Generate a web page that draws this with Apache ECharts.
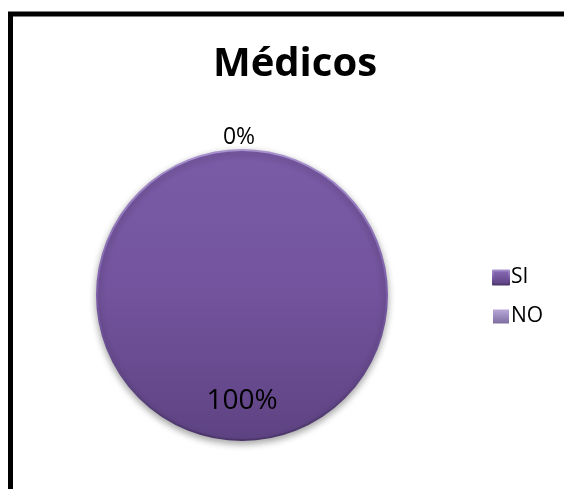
<!DOCTYPE html>
<html><head><meta charset="utf-8">
<script src="https://cdn.jsdelivr.net/npm/echarts@6/dist/echarts.min.js"></script>
<style>html,body{margin:0;padding:0;background:#fff}#c{width:564px;height:489px}</style>
</head><body><div id="c"></div>
<script>
const title = 'Médicos';
const categories = ['SI', 'NO'];
const values = [100, 0];
const labels = ['100%', '0%'];

const chart = echarts.init(document.getElementById('c'));
const purple = {type:'linear', x:0, y:0, x2:0, y2:1, colorStops:[{offset:0,color:'#7a5ba7'},{offset:0.5,color:'#72539c'},{offset:1,color:'#5e4383'}]};
const bevel = {type:'linear', x:0, y:0, x2:0, y2:1, colorStops:[{offset:0,color:'#a993cf'},{offset:0.5,color:'#7a5ba7'},{offset:1,color:'#4a3468'}]};
const purple2 = '#9b88bd';
const legendIcon1 = {type:'linear', x:0, y:0, x2:0, y2:1, colorStops:[{offset:0,color:'#8a6cb8'},{offset:1,color:'#5a4080'}]};
const legendIcon2 = {type:'linear', x:0, y:0, x2:0, y2:1, colorStops:[{offset:0,color:'#b8a8d8'},{offset:1,color:'#7e6ca0'}]};
const F = 'Open Sans';
chart.setOption({
  animation:false,
  title:{text:title, left:290, top:40, textAlign:'center', textStyle:{fontFamily:F, fontWeight:'bold', fontSize:40, color:'#000'}},
  legend:{orient:'vertical', left:487, top:262, itemGap:18, itemWidth:16, itemHeight:14, icon:'rect',
    textStyle:{fontFamily:F, fontSize:21, color:'#000', padding:[0,0,0,-3]},
    data:categories.map((c,i)=>({name:c, itemStyle:{color:i===0?legendIcon1:legendIcon2}}))},
  graphic:[{type:'rect', shape:{x:10.5, y:14, width:600, height:600}, style:{fill:'none', stroke:'#000', lineWidth:5}}],
  series:[{type:'pie', center:[242,295], radius:145, startAngle:90, minAngle:0,
    avoidLabelOverlap:false, stillShowZeroSum:true,
    itemStyle:{shadowBlur:7, shadowColor:'rgba(0,0,0,0.35)', shadowOffsetY:3},
    labelLayout:(p)=> p.dataIndex===0 ? {dy:31} : {align:'center', dy:-7, dx:-8},
    data:categories.map((c,i)=>({name:c, value:values[i],
      itemStyle:{color:i===0?purple:purple2, borderColor:i===0?bevel:purple2, borderWidth:i===0?2:0},
      label: i===0 ? {show:true, position:'inside', formatter:labels[i], fontFamily:F, fontSize:28, color:'#000'}
                   : {show:true, position:'outside', formatter:labels[i], fontFamily:F, fontSize:23, color:'#000'},
      labelLine:{show:false, length:6, length2:0}
    }))
  }]
});
</script></body></html>
